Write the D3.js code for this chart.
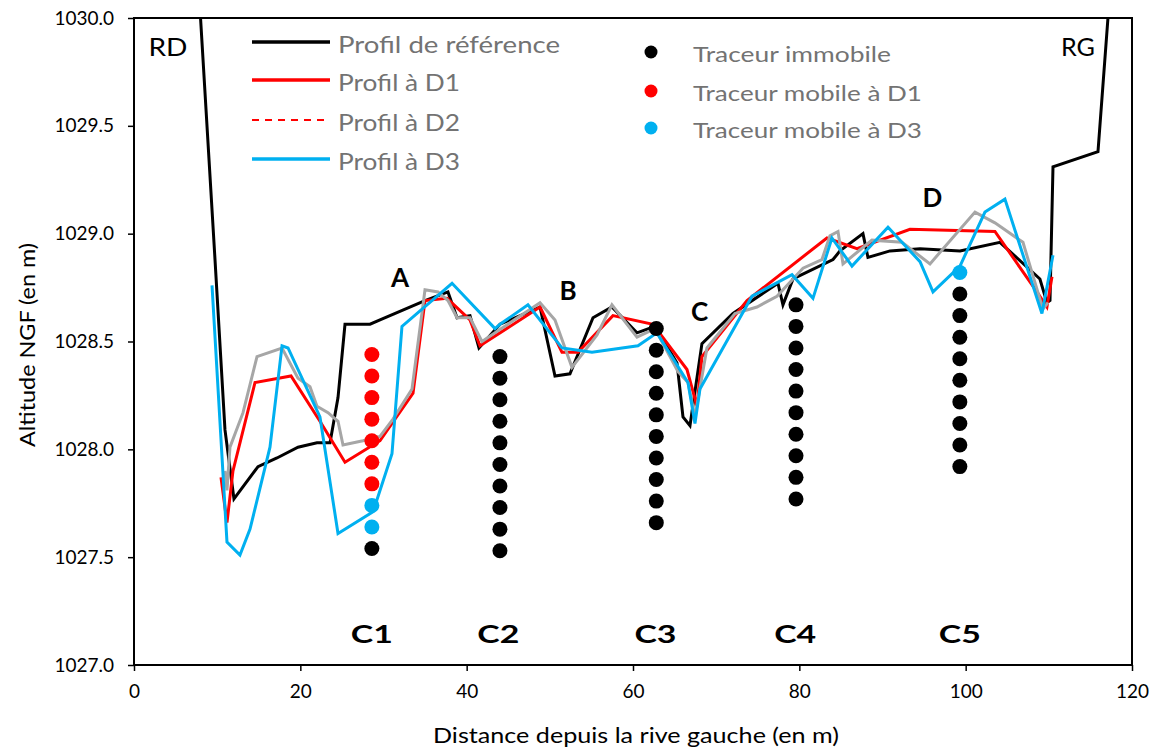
<!DOCTYPE html>
<html><head><meta charset="utf-8">
<script src="https://cdn.jsdelivr.net/npm/d3@7"></script>
<style>body{margin:0;background:#fff}svg{display:block;font-family:Lato,"Open Sans",sans-serif}</style>
</head><body><svg id="c" width="1158" height="749"></svg>
<script>
// Reference profile
const refX=[8.0,9.74,10.94,12.02,14.91,17.19,19.72,22.0,23.57,24.53,25.37,28.38,29.58,34.99,37.75,38.84,40.4,41.48,44.01,48.82,50.62,52.42,55.19,57.47,60.48,62.64,65.29,66.01,66.85,68.29,72.02,77.43,78.03,79.24,84.05,84.89,87.65,88.25,90.9,94.51,99.32,104.12,108.93,109.77,110.14,110.5,115.91,117.11];
const refY=[1030.0,1028.88,1028.09,1027.77,1027.92,1027.96,1028.01,1028.03,1028.03,1028.24,1028.58,1028.58,1028.6,1028.69,1028.73,1028.61,1028.62,1028.47,1028.58,1028.66,1028.34,1028.35,1028.61,1028.66,1028.54,1028.57,1028.4,1028.15,1028.11,1028.49,1028.63,1028.77,1028.67,1028.79,1028.88,1028.92,1029.0,1028.89,1028.92,1028.93,1028.92,1028.96,1028.79,1028.68,1028.69,1029.31,1029.38,1030.0];
// Profile D1
const d1X=[10.46,11.18,11.9,14.55,18.88,22.36,25.37,29.58,33.55,34.99,37.63,40.4,41.6,48.82,51.46,53.38,57.59,62.4,66.49,67.69,68.29,73.71,83.32,86.93,93.3,103.52,108.57,109.77,110.38];
const d1Y=[1027.87,1027.66,1027.9,1028.31,1028.34,1028.13,1027.94,1028.04,1028.26,1028.69,1028.7,1028.6,1028.48,1028.66,1028.45,1028.45,1028.62,1028.58,1028.37,1028.2,1028.43,1028.69,1028.98,1028.93,1029.02,1029.01,1028.73,1028.66,1028.8];
// Profile D2
const d2X=[10.94,11.18,11.54,13.11,14.79,17.8,19.72,21.16,22.0,23.33,24.53,25.13,27.53,29.58,31.14,33.43,34.99,36.55,37.75,38.84,40.4,41.84,43.41,48.82,50.62,52.66,55.67,57.47,60.48,62.64,65.41,66.61,67.45,68.89,72.26,74.91,77.31,80.44,82.72,83.68,84.65,85.25,88.73,92.34,95.71,101.12,103.52,106.89,109.29,109.9];
const d2Y=[1027.9,1027.81,1028.01,1028.17,1028.43,1028.47,1028.33,1028.29,1028.2,1028.17,1028.13,1028.02,1028.04,1028.06,1028.14,1028.28,1028.74,1028.73,1028.69,1028.61,1028.61,1028.5,1028.54,1028.68,1028.6,1028.38,1028.53,1028.67,1028.52,1028.56,1028.36,1028.31,1028.15,1028.47,1028.63,1028.66,1028.71,1028.84,1028.88,1028.99,1029.01,1028.86,1028.97,1028.96,1028.86,1029.1,1029.05,1028.96,1028.65,1028.68];
// Profile D3
const d3X=[9.38,11.18,12.74,13.95,16.35,17.8,18.52,22.36,24.53,28.74,31.02,32.22,38.24,43.41,44.01,47.37,51.46,55.07,60.6,62.88,66.61,67.45,68.05,74.31,79.12,81.64,83.92,86.33,90.66,94.51,96.07,99.32,102.32,104.72,109.17,110.5];
const d3Y=[1028.76,1027.57,1027.51,1027.63,1028.01,1028.48,1028.47,1028.15,1027.61,1027.71,1027.98,1028.57,1028.77,1028.56,1028.58,1028.67,1028.47,1028.45,1028.48,1028.54,1028.31,1028.12,1028.28,1028.71,1028.81,1028.7,1028.98,1028.85,1029.03,1028.87,1028.73,1028.85,1029.1,1029.16,1028.63,1028.9];
// Tracers
const immX=[28.6,44.0,44.0,44.0,44.0,44.0,44.0,44.0,44.0,44.0,44.0,62.8,62.8,62.8,62.8,62.8,62.8,62.8,62.8,62.8,62.8,79.6,79.6,79.6,79.6,79.6,79.6,79.6,79.6,79.6,79.6,99.3,99.3,99.3,99.3,99.3,99.3,99.3,99.3,99.3];
const immY=[1027.54,1028.43,1028.33,1028.23,1028.13,1028.03,1027.93,1027.83,1027.73,1027.63,1027.53,1028.56,1028.46,1028.36,1028.26,1028.16,1028.06,1027.96,1027.86,1027.76,1027.66,1028.67,1028.57,1028.47,1028.37,1028.27,1028.17,1028.07,1027.97,1027.87,1027.77,1028.72,1028.62,1028.52,1028.42,1028.32,1028.22,1028.12,1028.02,1027.92];
const mobD1X=[28.6,28.6,28.6,28.6,28.6,28.6,28.6];
const mobD1Y=[1028.44,1028.34,1028.24,1028.14,1028.04,1027.94,1027.84];
const mobD3X=[28.6,28.6,99.3];
const mobD3Y=[1027.74,1027.64,1028.82];
// Annotations
const zoneLabels=["A","B","C","D"];
const zoneX=[32.0,52.2,68.0,96.0];
const zoneY=[1028.8,1028.74,1028.64,1029.17];
const crossLabels=["C1","C2","C3","C4","C5"];
const crossX=[28.6,43.8,62.7,79.5,99.3];
const crossLabelY=1027.15;
const xTicks=[0,20,40,60,80,100,120];
const yTicks=[1027.0,1027.5,1028.0,1028.5,1029.0,1029.5,1030.0];
const lineLegend=["Profil de référence","Profil à D1","Profil à D2","Profil à D3"];
const dotLegend=["Traceur immobile","Traceur mobile à D1","Traceur mobile à D3"];

const svg=d3.select("#c");
const L=134,R=1132,T=18,B=665;
const x=d3.scaleLinear().domain([0,120]).range([L,R]);
const y=d3.scaleLinear().domain([1027,1030]).range([B,T]);

svg.append("defs").append("clipPath").attr("id","clip").append("rect").attr("x",L).attr("y",T).attr("width",R-L).attr("height",B-T);

// axes
const xa=svg.append("g").attr("transform",`translate(0,${B})`).call(d3.axisBottom(x).tickValues(xTicks).tickSize(6).tickPadding(14).tickFormat(d3.format("d")));
const ya=svg.append("g").attr("transform",`translate(${L},0)`).call(d3.axisLeft(y).tickValues(yTicks).tickSize(6).tickPadding(14).tickFormat(d3.format(".1f")));
[xa,ya].forEach(g=>{g.select(".domain").remove();g.selectAll("line").attr("stroke","#000").attr("stroke-width",1.5);g.selectAll("text").attr("font-size",19).attr("fill","#000").attr("font-family","Lato,sans-serif");});
svg.append("rect").attr("x",L).attr("y",T).attr("width",R-L).attr("height",B-T).attr("fill","none").attr("stroke","#000").attr("stroke-width",2);

svg.append("text").attr("x",636).attr("y",743).attr("text-anchor","middle").attr("font-size",22).attr("textLength",406).attr("lengthAdjust","spacingAndGlyphs").text("Distance depuis la rive gauche (en m)");
svg.append("text").attr("transform",`translate(35,345) rotate(-90)`).attr("text-anchor","middle").attr("font-size",21).attr("textLength",204).attr("lengthAdjust","spacingAndGlyphs").text("Altitude NGF (en m)");

const plot=svg.append("g").attr("clip-path","url(#clip)");
const line=d3.line().x(d=>x(d[0])).y(d=>y(d[1]));
const series=[[refX,refY,"#000"],[d1X,d1Y,"#ff0000"],[d2X,d2Y,"#a6a6a6"],[d3X,d3Y,"#00b0f0"]];
series.forEach(([xs,ys,c])=>{
  plot.append("path").datum(xs.map((v,i)=>[v,ys[i]])).attr("d",line).attr("fill","none").attr("stroke",c).attr("stroke-width",3).attr("stroke-linejoin","miter");
});
const dots=[[immX,immY,"#000"],[mobD1X,mobD1Y,"#ff0000"],[mobD3X,mobD3Y,"#00b0f0"]];
dots.forEach(([xs,ys,c])=>{
  plot.selectAll(null).data(xs.map((v,i)=>[v,ys[i]])).enter().append("circle").attr("cx",d=>x(d[0])).attr("cy",d=>y(d[1])).attr("r",7.5).attr("fill",c);
});

// annotations
zoneLabels.forEach((t,i)=>svg.append("text").attr("x",x(zoneX[i])).attr("y",y(zoneY[i])).attr("text-anchor","middle").attr("dominant-baseline","central").attr("font-size",26).attr("font-weight","bold").text(t));
crossLabels.forEach((t,i)=>svg.append("text").attr("x",x(crossX[i])).attr("y",y(crossLabelY)).attr("text-anchor","middle").attr("dominant-baseline","central").attr("font-size",25).attr("font-weight","bold").attr("textLength",42).attr("lengthAdjust","spacingAndGlyphs").text(t));
svg.append("text").attr("x",168).attr("y",46).attr("text-anchor","middle").attr("dominant-baseline","central").attr("font-size",25).attr("textLength",39).attr("lengthAdjust","spacingAndGlyphs").text("RD");
svg.append("text").attr("x",1078).attr("y",46).attr("text-anchor","middle").attr("dominant-baseline","central").attr("font-size",25).attr("textLength",34).attr("lengthAdjust","spacingAndGlyphs").text("RG");

// legend
const legY=[42,80,120,159];
const legLen=[222,122,122,122];
const legStyle=[["#000",null],["#ff0000",null],["#ff0000","7,6"],["#00b0f0",null]];
lineLegend.forEach((t,i)=>{
  const l=svg.append("line").attr("x1",252).attr("x2",330).attr("y1",legY[i]).attr("y2",legY[i]).attr("stroke",legStyle[i][0]).attr("stroke-width",legStyle[i][1]?2:3.5);
  if(legStyle[i][1]) l.attr("stroke-dasharray",legStyle[i][1]);
  svg.append("text").attr("x",338).attr("y",legY[i]+1).attr("dominant-baseline","central").attr("font-size",24).attr("fill","#737373").attr("textLength",legLen[i]).attr("lengthAdjust","spacingAndGlyphs").text(t);
});
const dotLegY=[52,91,128];
const dotLen=[198,229,229];
const dotCol=["#000","#ff0000","#00b0f0"];
dotLegend.forEach((t,i)=>{
  svg.append("circle").attr("cx",651).attr("cy",dotLegY[i]).attr("r",6.5).attr("fill",dotCol[i]);
  svg.append("text").attr("x",693).attr("y",dotLegY[i]+1).attr("dominant-baseline","central").attr("font-size",21).attr("fill","#737373").attr("textLength",dotLen[i]).attr("lengthAdjust","spacingAndGlyphs").text(t);
});
</script></body></html>
